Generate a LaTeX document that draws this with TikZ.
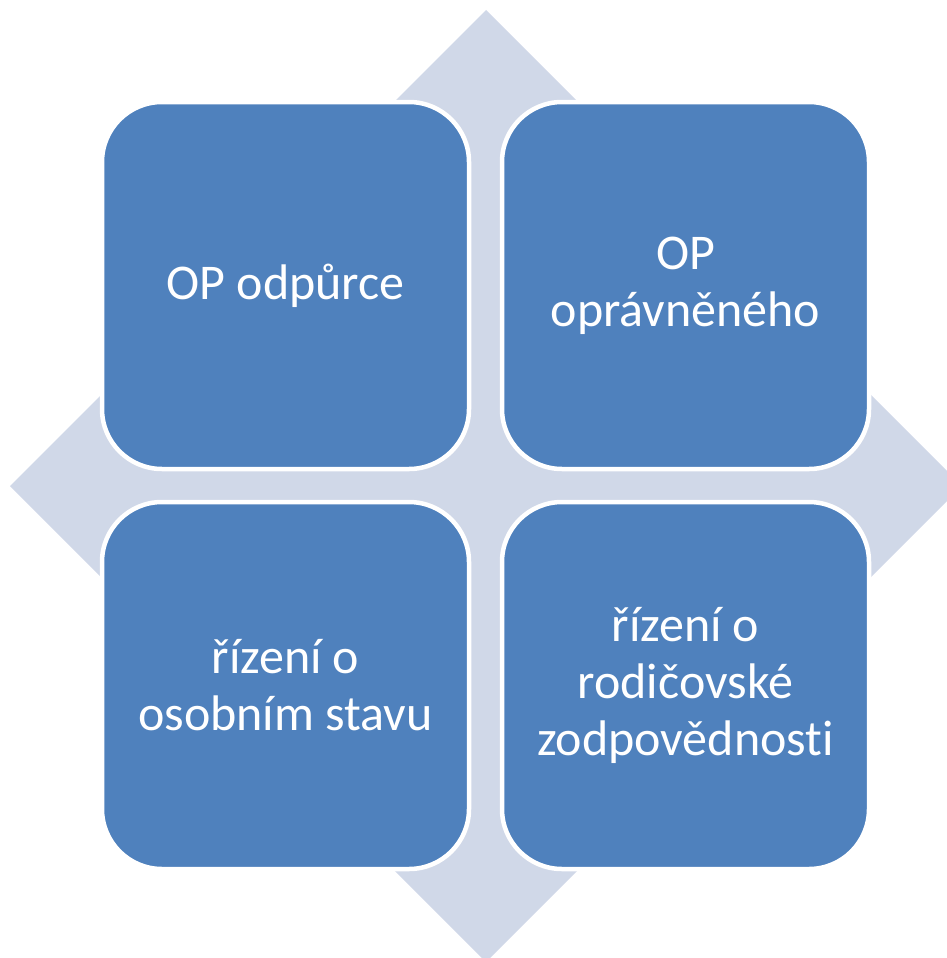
\documentclass[tikz,border=0pt]{standalone}
\usepackage{fontspec}
\setmainfont[Ligatures={NoCommon,NoContextual}]{Carlito}
\usepackage{tikz}
\usetikzlibrary{positioning}
\definecolor{mxblue}{RGB}{79,129,189}
\definecolor{mxback}{RGB}{208,216,232}
\tikzset{
  mxcell/.style={
    rectangle,
    rounded corners=60pt,
    draw=white,
    line width=4.5pt,
    fill=mxblue,
    text=white,
    align=center,
    inner sep=0pt,
    outer sep=0pt,
    minimum width=367pt,
    minimum height=367pt,
    font=\fontsize{50}{57}\selectfont
  },
  mxdiamond/.style={fill=mxback}
}

\begin{document}
\begin{tikzpicture}[x=1pt,y=-1pt]
  \useasboundingbox (0,0) rectangle (947,958);
  \clip (0,0) rectangle (947,958);

  % background diamond
  \coordinate (mid) at (486,486);
  \fill[mxdiamond] (486,10) -- (962,486) -- (486,962) -- (10,486) -- cycle;

  \node[mxcell] (opp) at (285.5,285.5) {OP odpůrce};
  \node[mxcell] (opr) at (685.5,285.5) {OP\\oprávněného};
  \node[mxcell] (osob) at (285.5,685.5) {řízení o\\osobním stavu};
  \node[mxcell] (rodic) at (685.5,685.5) {řízení o\\rodičovské\\zodpovědnosti};
\end{tikzpicture}
\end{document}
